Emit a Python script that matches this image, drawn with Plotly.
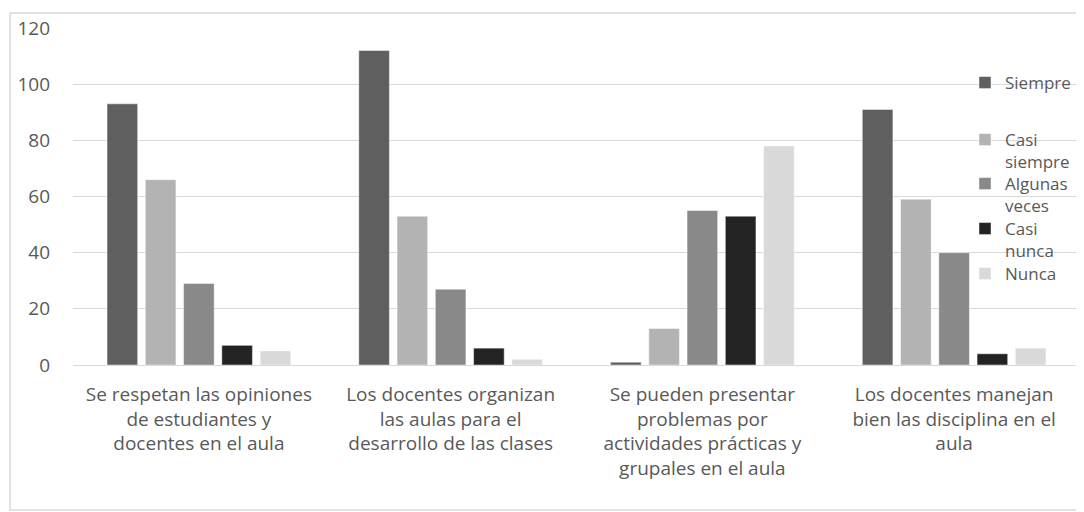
import plotly.graph_objects as go

categories = [
    "Se respetan las opiniones<br>de estudiantes y<br>docentes en el aula",
    "Los docentes organizan<br>las aulas para el<br>desarrollo de las clases",
    "Se pueden presentar<br>problemas por<br>actividades prácticas y<br>grupales en el aula",
    "Los docentes manejan<br>bien las disciplina en el<br>aula",
]
series_names = ["Siempre", "Casi<br>siempre", "Algunas<br>veces", "Casi<br>nunca", "Nunca"]
siempre = [93, 112, 1, 91]
casi_siempre = [66, 53, 13, 59]
algunas_veces = [29, 27, 55, 40]
casi_nunca = [7, 6, 53, 4]
nunca = [5, 2, 78, 6]
colors = ["#5f5f5f", "#b3b3b3", "#898989", "#232323", "#d9d9d9"]
y_ticks = [0, 20, 40, 60, 80, 100, 120]

values = [siempre, casi_siempre, algunas_veces, casi_nunca, nunca]
FONT = "Open Sans"
TXT = "#595959"
OFF = 8  # page body margin

W, H = 1084 - OFF, 512 - OFF
# plot area in page coordinates, converted to figure coordinates
L, R, T, B = 73, 1080, 28, 365
L, R, T, B = L - OFF, R - OFF, T - OFF, B - OFF
pw, ph = R - L, B - T

def px(x):
    return (x - OFF - L) / pw

def py(y):
    return (B - (y - OFF)) / ph

legend_names = ["legend", "legend2", "legend3", "legend4", "legend5"]
legend_first_line_y = [84, 141, 185, 230, 275]  # page coords of first text line centre

fig = go.Figure()
for i, (name, vals, col) in enumerate(zip(series_names, values, colors)):
    fig.add_trace(go.Bar(
        x=categories, y=vals, name=name,
        marker=dict(color=col, line=dict(color="rgba(255,255,255,0.45)", width=1)),
        legend=legend_names[i],
    ))

legend_cfgs = {}
for i, ln in enumerate(legend_names):
    legend_cfgs[ln] = dict(
        x=px(965), y=py(legend_first_line_y[i] - 19), xanchor="left", yanchor="top",
        bgcolor="rgba(0,0,0,0)", font=dict(family=FONT, size=17, color=TXT),
        itemwidth=30, valign="top", tracegroupgap=0,
    )

fig.update_layout(
    width=W, height=H,
    margin=dict(l=L, r=W - R, t=T, b=H - B, autoexpand=False),
    paper_bgcolor="white", plot_bgcolor="white",
    font=dict(family=FONT, size=19, color=TXT),
    barmode="group", bargap=0.24, bargroupgap=0.2,
    showlegend=True,
    **legend_cfgs,
    xaxis=dict(showgrid=False, showline=False, ticks="", tickfont=dict(size=19, color=TXT),
               tickangle=0, ticklabelstandoff=16),
    yaxis=dict(range=[0, 120], tickvals=y_ticks, showgrid=True, gridcolor="#d9d9d9",
               gridwidth=1, zeroline=True, zerolinecolor="#d9d9d9", zerolinewidth=1,
               showline=False, ticks="", ticklabelstandoff=22,
               tickfont=dict(size=19, color=TXT)),
    shapes=[dict(type="rect", xref="paper", yref="paper",
                 x0=px(10), x1=px(1081), y0=py(510), y1=py(13),
                 line=dict(color="#d9d9d9", width=1.5), layer="below")],
)

fig.write_html("out.html")
